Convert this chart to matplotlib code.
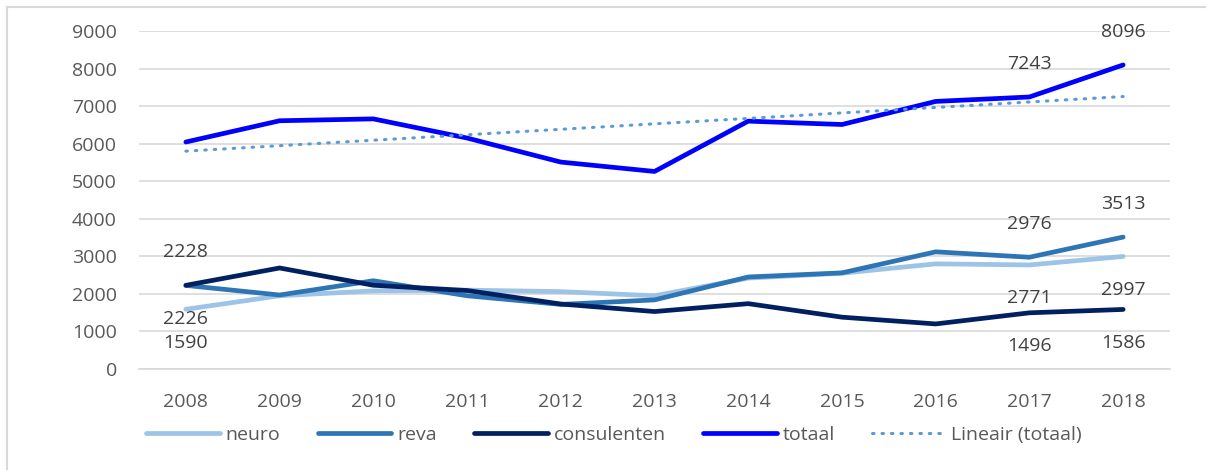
import matplotlib
matplotlib.use('Agg')
import matplotlib.pyplot as plt
from matplotlib.lines import Line2D
import numpy as np

years = ['2008', '2009', '2010', '2011', '2012', '2013', '2014', '2015', '2016', '2017', '2018']
neuro = [1590, 1950, 2080, 2100, 2060, 1950, 2420, 2550, 2800, 2771, 2997]
reva = [2226, 1970, 2350, 1950, 1720, 1840, 2450, 2560, 3120, 2976, 3513]
consulenten = [2228, 2690, 2230, 2090, 1730, 1530, 1740, 1380, 1200, 1496, 1586]
totaal = [6044, 6610, 6660, 6150, 5510, 5260, 6600, 6510, 7125, 7243, 8096]

plt.rcParams['font.family'] = ['Open Sans', 'DejaVu Sans']

fig = plt.figure(figsize=(12.06, 4.70), dpi=100)
ax = fig.add_axes([139 / 1206, 101 / 470, 1031 / 1206, 338 / 470])

x = np.arange(len(years))

# lineaire trend zoals Excel die berekent
k, b = np.polyfit(x, totaal, 1)
trend = k * x + b

lw = 3.4
ax.plot(x, neuro, color='#9DC3E6', lw=lw, solid_joinstyle='round', solid_capstyle='round', zorder=3)
ax.plot(x, reva, color='#2E75B6', lw=lw, solid_joinstyle='round', solid_capstyle='round', zorder=3)
ax.plot(x, consulenten, color='#002060', lw=lw, solid_joinstyle='round', solid_capstyle='round', zorder=4)
ax.plot(x, totaal, color='#0000FF', lw=lw, solid_joinstyle='round', solid_capstyle='round', zorder=3)
ax.plot(x, trend, color='#5B9BD5', lw=2.2, linestyle=(0, (0.5, 2.6)), dash_capstyle='round', zorder=5)

# datalabels: (serie, index, boven/onder)
lbl_color = '#404040'
labels = [
    (consulenten, 0, 1), (reva, 0, -1), (neuro, 0, -1),
    (reva, 9, 1), (neuro, 9, -1), (consulenten, 9, -1),
    (reva, 10, 1), (neuro, 10, -1), (consulenten, 10, -1),
    (totaal, 9, 1), (totaal, 10, 1),
]
for serie, i, side in labels:
    ax.annotate(str(serie[i]), (x[i], serie[i]), xytext=(0, 24 * side),
                textcoords='offset points', ha='center', va='center',
                fontsize=14, color=lbl_color)

ax.set_xlim(-0.5, len(years) - 0.5)
ax.set_ylim(0, 9000)
ax.set_yticks(np.arange(0, 9001, 1000))
ax.set_xticks(x)
ax.set_xticklabels(years)
ax.tick_params(length=0, labelsize=14, labelcolor='#595959')
ax.tick_params(axis='y', pad=16)
ax.tick_params(axis='x', pad=17)
ax.grid(axis='y', color='#D9D9D9', lw=1.2)
ax.set_axisbelow(True)
for s in ['top', 'right', 'left']:
    ax.spines[s].set_visible(False)
ax.spines['bottom'].set_color('#D9D9D9')
ax.spines['bottom'].set_linewidth(1.2)

handles = [
    Line2D([], [], color='#9DC3E6', lw=lw, solid_capstyle='round'),
    Line2D([], [], color='#2E75B6', lw=lw, solid_capstyle='round'),
    Line2D([], [], color='#002060', lw=lw, solid_capstyle='round'),
    Line2D([], [], color='#0000FF', lw=lw, solid_capstyle='round'),
    Line2D([], [], color='#5B9BD5', lw=2.2, linestyle=(0, (0.5, 2.6)), dash_capstyle='round'),
]
names = ['neuro', 'reva', 'consulenten', 'totaal', 'Lineair (totaal)']
leg = fig.legend(handles, names, loc='center', bbox_to_anchor=(614 / 1206, 1 - 435 / 470),
                 ncol=5, frameon=False, fontsize=14, handlelength=3.8, handletextpad=0.3,
                 columnspacing=1.9)
for t in leg.get_texts():
    t.set_color('#595959')

# rand van het grafiekvlak (rechts/onder weggesneden)
fig.add_artist(Line2D([7 / 1206, 7 / 1206], [0, 1 - 7 / 470], color='#D9D9D9', lw=1.5))
fig.add_artist(Line2D([7 / 1206, 1], [1 - 7 / 470, 1 - 7 / 470], color='#D9D9D9', lw=1.5))

fig.savefig('out.png', dpi=100)
